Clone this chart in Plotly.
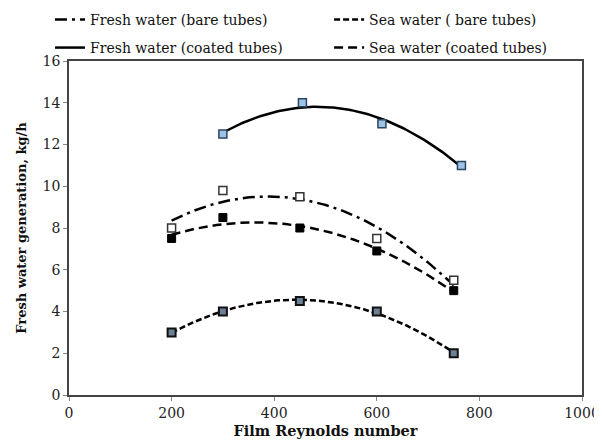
import numpy as np
import plotly.graph_objects as go

# Data
re_fresh_bare = [200, 300, 450, 600, 750]
fw_fresh_bare = [8.0, 9.8, 9.5, 7.5, 5.5]

re_sea_bare = [200, 300, 450, 600, 750]
fw_sea_bare = [3.0, 4.0, 4.5, 4.0, 2.0]

re_fresh_coated = [300, 455, 610, 765]
fw_fresh_coated = [12.5, 14.0, 13.0, 11.0]

re_sea_coated = [200, 300, 450, 600, 750]
fw_sea_coated = [7.5, 8.5, 8.0, 6.9, 5.0]

x_ticks = [0, 200, 400, 600, 800, 1000]
y_ticks = [0, 2, 4, 6, 8, 10, 12, 14, 16]

FONT = "DejaVu Serif"

def trend(x, y):
    # 2nd-order polynomial trendline, as in the source chart
    c = np.polyfit(x, y, 2)
    xs = np.linspace(min(x), max(x), 120)
    return xs, np.polyval(c, xs)

fig = go.Figure()

series = [
    ("Fresh water (bare tubes)", re_fresh_bare, fw_fresh_bare, "12px,5px,3px,5px", "legend",
     dict(color="white", line=dict(color="#333333", width=1.5))),
    ("Sea water ( bare tubes)", re_sea_bare, fw_sea_bare, "6px,3px", "legend2",
     dict(color="#6d8196", line=dict(color="#111111", width=2))),
    ("Fresh water (coated tubes)", re_fresh_coated, fw_fresh_coated, "solid", "legend3",
     dict(color="#9ec3e6", line=dict(color="#2b4660", width=1.5))),
    ("Sea water (coated tubes)", re_sea_coated, fw_sea_coated, "9px,5px", "legend4",
     dict(color="black", line=dict(color="black", width=1))),
]

for name, x, y, dash, leg, mk in series:
    xs, ys = trend(x, y)
    fig.add_trace(go.Scatter(x=xs, y=ys, mode="lines", name=name, legend=leg,
                             line=dict(color="black", width=2.5, dash=dash)))
    fig.add_trace(go.Scatter(x=x, y=y, mode="markers", showlegend=False,
                             marker=dict(symbol="square", size=8, **mk)))

axis_common = dict(
    showgrid=False, zeroline=False, showline=True, mirror=True,
    linecolor="#444444", linewidth=1.5, ticks="outside", ticklen=4,
    tickcolor="#888888", tickfont=dict(family=FONT, size=14, color="#222222"),
)

legend_common = dict(orientation="h", xanchor="left", yanchor="middle", itemwidth=30,
                     font=dict(family=FONT, size=14, color="#111111"),
                     bgcolor="rgba(0,0,0,0)")

# page body has an 8px offset; margins compensate so the plot box lands where the reference has it
fig.update_layout(
    width=594, height=439,
    margin=dict(l=61, r=20, t=53, b=52, autoexpand=False),
    paper_bgcolor="white", plot_bgcolor="white",
    xaxis=dict(range=[0, 1000], tickvals=x_ticks,
               title=dict(text="<b>Film Reynolds number</b>", standoff=6,
                          font=dict(family=FONT, size=14.5, color="#111111")),
               **axis_common),
    yaxis=dict(range=[0, 16], tickvals=y_ticks,
               title=dict(text="<b>Fresh water generation, kg/h</b>", standoff=13,
                          font=dict(family=FONT, size=13, color="#111111")),
               **axis_common),
    legend=dict(x=-0.037, y=1.123, **legend_common),
    legend2=dict(x=0.507, y=1.123, **legend_common),
    legend3=dict(x=-0.037, y=1.039, **legend_common),
    legend4=dict(x=0.507, y=1.039, **legend_common),
)

fig.write_html("out.html")
